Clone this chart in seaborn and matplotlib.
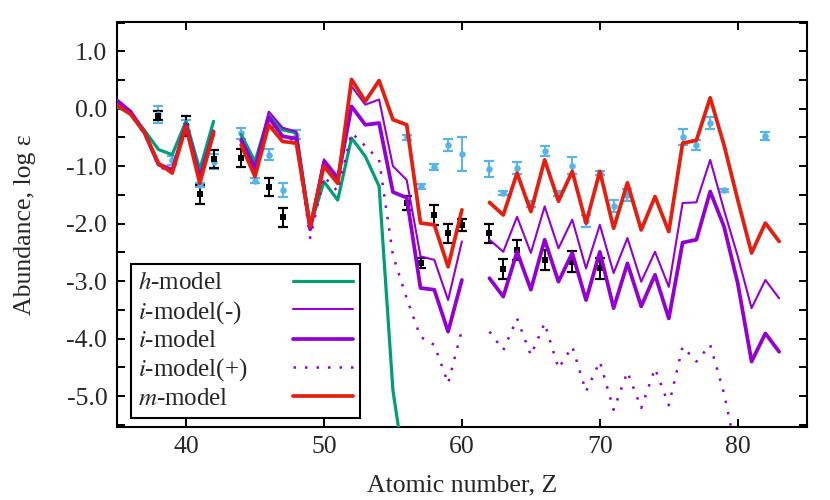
"""
元素組成 (log ε) とモデル計算の比較図
"""
import numpy as np
import pandas as pd
import matplotlib
matplotlib.use('Agg')
import matplotlib.pyplot as plt
import seaborn as sns
from matplotlib.ticker import MultipleLocator, FormatStrFormatter

# 原子番号 Z=35..83 (Tc=43, Pm=61 は NaN)
atomic_z = np.arange(35, 84)
nan = np.nan

h_model = [0.03, -0.08, -0.38, -0.71, -0.80, -0.22, -1.06, -0.22, nan,
           -0.45, -0.92, -0.12, -0.37, -0.42, -2.05, -1.27, -1.59, -0.51, -0.83,
           -1.35, -4.90, -6.50] + [nan] * 27

i_model_minus = [0.16, -0.04, -0.40, -0.95, -1.05, -0.25, -1.18, -0.38, nan,
                 -0.52, -1.00, -0.05, -0.33, -0.40, -2.05, -0.88, -1.18, 0.39, 0.07,
                 0.16, -1.00, -1.24, -2.57, -2.63, -3.33, -2.31, nan,
                 -2.28, -2.49, -1.88, -2.51, -1.70, -2.43, -1.93, -2.78, -2.02, -2.86,
                 -2.25, -3.01, -2.49, -3.10, -1.64, -1.63, -0.89, -1.76, -2.57, -3.47,
                 -2.98, -3.30]

i_model = [0.14, -0.06, -0.42, -0.97, -1.08, -0.28, -1.22, -0.40, nan,
           -0.55, -1.05, -0.15, -0.48, -0.52, -2.10, -0.93, -1.24, 0.04, -0.28,
           -0.25, -1.45, -1.55, -3.12, -3.15, -3.88, -2.98, nan,
           -2.95, -3.27, -2.49, -3.15, -2.28, -3.01, -2.51, -3.33, -2.49, -3.47,
           -2.69, -3.44, -2.89, -3.65, -2.33, -2.28, -1.44, -2.05, -3.04, -4.40,
           -3.91, -4.23]

i_model_plus = [0.10, -0.10, -0.45, -1.00, -1.12, -0.32, -1.25, -0.45, nan,
                -0.60, -1.10, -0.20, -0.50, -0.55, -2.25, -1.18, -1.44, -0.42, -0.65,
                -0.89, -2.55, -3.30, -3.97, -4.11, -4.78, -3.85, nan,
                -3.88, -4.20, -3.65, -4.29, -3.73, -4.52, -4.14, -4.92, -4.40, -5.24,
                -4.58, -5.21, -4.52, -5.16, -4.14, -4.40, -4.11, -4.95, -6.10, nan,
                nan, nan]

m_model = [0.06, -0.10, -0.42, -0.95, -1.12, -0.31, -1.30, -0.42, nan,
           -0.63, -1.18, -0.28, -0.57, -0.60, -2.05, -1.00, -1.30, 0.51, 0.13,
           0.49, -0.19, -0.28, -1.99, -2.02, -2.75, -1.76, nan,
           -1.63, -1.85, -1.12, -1.79, -0.89, -1.61, -1.09, -1.99, -1.09, -2.08,
           -1.29, -2.11, -1.53, -2.14, -0.60, -0.55, 0.19, -0.63, -1.59, -2.51,
           -1.99, -2.31]

# 観測値 (黒: 四角, 水色: 丸)
obs_black_z = [38, 40, 41, 42, 44, 46, 47, 56, 57, 58, 59, 60, 62, 63, 64, 66, 68, 70]
obs_black_v = [-0.12, -0.30, -1.49, -0.87, -0.86, -1.36, -1.89, -1.64, -2.69, -1.85,
               -2.17, -2.02, -2.17, -2.79, -2.46, -2.63, -2.66, -2.78]
obs_black_err = [0.08, 0.17, 0.17, 0.16, 0.16, 0.16, 0.16, 0.12, 0.09, 0.17,
                 0.17, 0.10, 0.17, 0.17, 0.17, 0.17, 0.18, 0.18]

obs_cyan_z = [38, 39, 40, 41, 42, 44, 45, 46, 47, 48, 56, 57, 58, 59, 60, 62, 63, 64,
              65, 66, 67, 68, 69, 70, 71, 72, 76, 77, 78, 79, 82]
obs_cyan_v = [-0.10, -0.90, -0.29, -1.33, -0.92, -0.43, -1.25, -0.80, -1.41, -0.45,
              -0.50, -1.35, -1.02, -0.63, -0.79, -1.05, -1.47, -1.03, -1.66, -0.74,
              -1.48, -0.99, -1.95, -1.12, -1.69, -1.50, -0.49, -0.63, -0.25, -1.42,
              -0.47]
obs_cyan_err = [0.15, 0.08, 0.10, 0.04, 0.13, 0.10, 0.04, 0.10, 0.12, 0.08,
                0.05, 0.04, 0.05, 0.10, 0.30, 0.14, 0.03, 0.10, 0.05, 0.09,
                0.04, 0.15, 0.10, 0.04, 0.10, 0.10, 0.14, 0.09, 0.10, 0.03,
                0.07]

PURPLE = '#9400d3'
GREEN = '#009e73'
RED = '#e51e10'
CYAN = '#56b4e9'


def plot_model(ax, values, label, **style):
    """NaN で区切られた区間ごとにモデル線を描く"""
    df = pd.DataFrame({'Z': atomic_z, 'value': values})
    df['seg'] = df['value'].isna().cumsum()
    df = df.dropna()
    first = True
    for _, part in df.groupby('seg'):
        sns.lineplot(data=part, x='Z', y='value', ax=ax, estimator=None,
                     errorbar=None, legend=False,
                     label=label if first else None, **style)
        first = False


def plot_obs(ax, z, v, err, color, marker, size):
    """誤差棒付きの観測値"""
    df = pd.DataFrame({'Z': z, 'value': v, 'err': err})
    ax.errorbar(df['Z'], df['value'], yerr=df['err'], fmt='none', ecolor=color,
                elinewidth=1.4, capsize=3.6, capthick=1.6, zorder=2)
    sns.scatterplot(data=df, x='Z', y='value', ax=ax, color=color, marker=marker,
                    s=size, linewidth=0, legend=False, zorder=3)


sns.set_theme(style='ticks')
plt.rcParams['font.family'] = ['Liberation Serif', 'DejaVu Serif']
plt.rcParams['mathtext.fontset'] = 'stix'

fig = plt.figure(figsize=(8.3, 5.0), dpi=100)
ax = fig.add_axes([0.141, 0.147, 0.831, 0.808])

plot_obs(ax, obs_cyan_z, obs_cyan_v, obs_cyan_err, CYAN, 'o', 22)
plot_obs(ax, obs_black_z, obs_black_v, obs_black_err, 'black', 's', 24)

plot_model(ax, h_model, '$h$-model', color=GREEN, linewidth=2.3, zorder=4)
plot_model(ax, i_model_minus, '$i$-model(-)', color=PURPLE, linewidth=1.5, zorder=5)
plot_model(ax, i_model, '$i$-model', color=PURPLE, linewidth=2.7, zorder=5)
plot_model(ax, i_model_plus, '$i$-model(+)', color=PURPLE, linewidth=1.8,
           linestyle=(0, (1, 3.6)), zorder=5)
plot_model(ax, m_model, '$m$-model', color=RED, linewidth=2.7, zorder=6)

ax.set_xlim(35, 85)
ax.set_ylim(-5.53, 1.5)
ax.xaxis.set_major_locator(MultipleLocator(10))
ax.yaxis.set_major_locator(MultipleLocator(1.0))
ax.yaxis.set_minor_locator(MultipleLocator(0.5))
ax.yaxis.set_major_formatter(FormatStrFormatter('%.1f'))
ax.tick_params(which='both', direction='in', top=True, right=True,
               length=6, width=1.4, labelsize=18.5, color='black', pad=7)
for sp in ax.spines.values():
    sp.set_linewidth(1.5)
    sp.set_color('black')

ax.set_xlabel('Atomic number, Z', fontsize=18.5, labelpad=12)
ax.set_ylabel('Abundance, log ε', fontsize=18.5, labelpad=22)

handles, labels = ax.get_legend_handles_labels()
leg = ax.legend(handles, labels, loc='lower left', bbox_to_anchor=(0.02, 0.022),
                borderaxespad=0, markerfirst=False, fontsize=18,
                handlelength=2.4, handletextpad=1.8, labelspacing=0.17,
                borderpad=0.3, fancybox=False, framealpha=1,
                edgecolor='black')
leg.get_frame().set_linewidth(1.5)

# ラベルを左揃えにする (行ごとの間隔を調整)
fig.canvas.draw()
rend = fig.canvas.get_renderer()
widths = [t.get_window_extent(rend).width for t in leg.texts]
wmax = max(widths)
for col in leg._legend_handle_box.get_children():
    for row, w in zip(col.get_children(), widths):
        row.sep += (wmax - w) * 72.0 / fig.dpi

fig.savefig('out.png', dpi=100)
plt.close(fig)
